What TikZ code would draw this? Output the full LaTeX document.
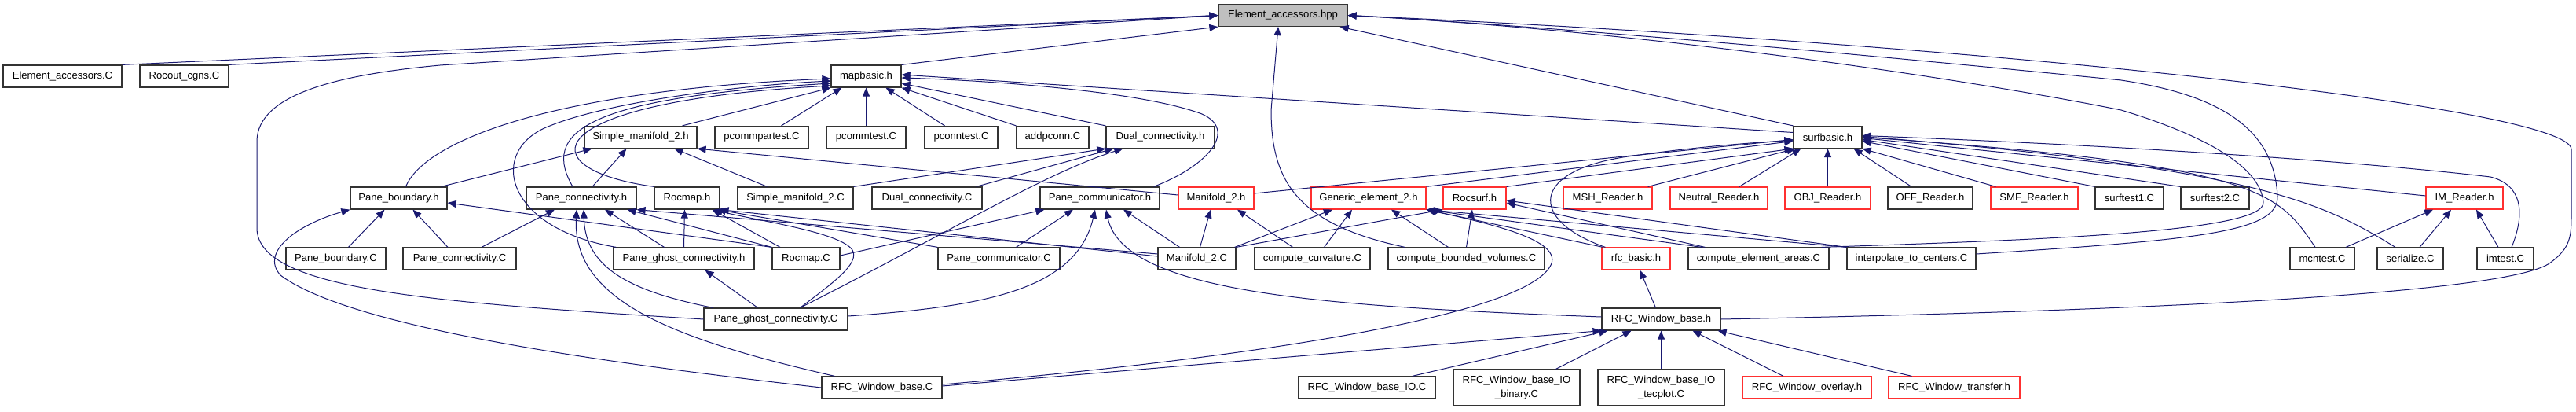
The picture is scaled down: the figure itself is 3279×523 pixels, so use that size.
\documentclass[tikz,border=0pt]{standalone}
\usepackage{fontspec}
\setmainfont{Liberation Sans}
\usetikzlibrary{arrows.meta}
\definecolor{edgeblue}{HTML}{191970}
\definecolor{rootgray}{HTML}{BFBFBF}
\definecolor{truncred}{HTML}{FF3030}

\begin{document}
\begin{tikzpicture}[x=1pt, y=-1pt,
  file/.style={draw=black!80, line width=1.2pt, fill=white, minimum height=28pt, inner sep=0pt,
    align=center, font=\fontsize{13.1pt}{17.7pt}\selectfont},
  trunc/.style={file, draw=truncred},
  root/.style={file, fill=rootgray},
  tall/.style={file, minimum height=46pt},
  dep/.style={draw=edgeblue, line width=1pt, -{Triangle[length=11pt,width=9pt]}}]
\useasboundingbox (0,0) rectangle (3279,523);

% Root file
\node[root, minimum width=164pt] (eahpp) at (1633,19.5) {Element\_accessors.hpp};

% Row 1
\node[file, minimum width=151pt] (eaC) at (79.5,97) {Element\_accessors.C};
\node[file, minimum width=113pt] (rocout) at (234.5,97) {Rocout\_cgns.C};
\node[file, minimum width=89pt] (mapbasic) at (1102.5,97) {mapbasic.h};

% Row 2
\node[file, minimum width=143pt] (smh) at (815.5,174.5) {Simple\_manifold\_2.h};
\node[file, minimum width=119pt] (pcommpartest) at (969.5,174.5) {pcommpartest.C};
\node[file, minimum width=101pt] (pcommtest) at (1102.5,174.5) {pcommtest.C};
\node[file, minimum width=93pt] (pconntest) at (1223.5,174.5) {pconntest.C};
\node[file, minimum width=92pt] (addpconn) at (1340,174.5) {addpconn.C};
\node[file, minimum width=138pt] (dualh) at (1477,174.5) {Dual\_connectivity.h};
\node[file, minimum width=87pt] (surfbasic) at (2326.5,174.5) {surfbasic.h};

% Row 3
\node[file, minimum width=123pt] (pbh) at (507.5,252) {Pane\_boundary.h};
\node[file, minimum width=140pt] (pch) at (740,252) {Pane\_connectivity.h};
\node[file, minimum width=83pt] (rocmaph) at (874.5,252) {Rocmap.h};
\node[file, minimum width=147pt] (smC) at (1012.5,252) {Simple\_manifold\_2.C};
\node[file, minimum width=140pt] (dualC) at (1180,252) {Dual\_connectivity.C};
\node[file, minimum width=152pt] (pcommh) at (1400,252) {Pane\_communicator.h};
\node[trunc, minimum width=96pt] (m2h) at (1548,252) {Manifold\_2.h};
\node[trunc, minimum width=146pt] (geh) at (1742,252) {Generic\_element\_2.h};
\node[trunc, minimum width=80pt] (rocsurf) at (1877,252) {Rocsurf.h};
\node[trunc, minimum width=113pt] (msh) at (2046.5,252) {MSH\_Reader.h};
\node[trunc, minimum width=124pt] (neutral) at (2188,252) {Neutral\_Reader.h};
\node[trunc, minimum width=109pt] (obj) at (2326.5,252) {OBJ\_Reader.h};
\node[file, minimum width=108pt] (off) at (2457,252) {OFF\_Reader.h};
\node[trunc, minimum width=111pt] (smf) at (2589.5,252) {SMF\_Reader.h};
\node[file, minimum width=87pt] (st1) at (2710.5,252) {surftest1.C};
\node[file, minimum width=87pt] (st2) at (2819.5,252) {surftest2.C};
\node[trunc, minimum width=98pt] (imr) at (3137,252) {IM\_Reader.h};

% Row 4
\node[file, minimum width=127pt] (pbC) at (427.5,329) {Pane\_boundary.C};
\node[file, minimum width=144pt] (pcC) at (585,329) {Pane\_connectivity.C};
\node[file, minimum width=179pt] (pgh) at (870.5,329) {Pane\_ghost\_connectivity.h};
\node[file, minimum width=86pt] (rocmapC) at (1026,329) {Rocmap.C};
\node[file, minimum width=155pt] (pcommC) at (1271.5,329) {Pane\_communicator.C};
\node[file, minimum width=99pt] (m2C) at (1523.5,329) {Manifold\_2.C};
\node[file, minimum width=147pt] (curv) at (1670.5,329) {compute\_curvature.C};
\node[file, minimum width=199pt] (cbv) at (1866.5,329) {compute\_bounded\_volumes.C};
\node[trunc, minimum width=87pt] (rfcb) at (2082.5,329) {rfc\_basic.h};
\node[file, minimum width=179pt] (cea) at (2238.5,329) {compute\_element\_areas.C};
\node[file, minimum width=164pt] (itc) at (2433,329) {interpolate\_to\_centers.C};
\node[file, minimum width=82pt] (mcn) at (2956,329) {mcntest.C};
\node[file, minimum width=84pt] (ser) at (3068,329) {serialize.C};
\node[file, minimum width=72pt] (imt) at (3189,329) {imtest.C};

% Row 5
\node[file, minimum width=183pt] (pgC) at (987.5,406) {Pane\_ghost\_connectivity.C};
\node[file, minimum width=151pt] (rwbh) at (2114.5,406) {RFC\_Window\_base.h};

% Row 6
\node[file, minimum width=153pt] (rwbC) at (1122.5,493) {RFC\_Window\_base.C};
\node[file, minimum width=174pt] (rwio) at (1740,493) {RFC\_Window\_base\_IO.C};
\node[tall, minimum width=161pt] (rwbin) at (1930.5,493) {RFC\_Window\_base\_IO\\\_binary.C};
\node[tall, minimum width=161pt] (rwtec) at (2114.5,493) {RFC\_Window\_base\_IO\\\_tecplot.C};
\node[trunc, minimum width=164pt] (rwov) at (2300,493) {RFC\_Window\_overlay.h};
\node[trunc, minimum width=167pt] (rwtr) at (2487.5,493) {RFC\_Window\_transfer.h};

% Element_accessors.hpp
\draw[dep] (eaC.north east) -- (eahpp.west);
\draw[dep] (rocout.north east) -- (eahpp.west);
\draw[dep] (mapbasic.north east) -- (eahpp.south west);
\draw[dep] (surfbasic.north west) -- ([xshift=-10pt]eahpp.south east);
\draw[dep] (pgC.west) .. controls (560,385) and (327,370) .. (327,290) -- (327,180)
  .. controls (327,120) and (430,95) .. (560,83) -- (eahpp.west);
\draw[dep] ([xshift=22pt]cbv.north west) .. controls (1650,285) and (1618,230) .. (1618,140) -- ([xshift=-6pt]eahpp.south);
\draw[dep] (rwbh.east) .. controls (2900,392) and (3200,365) .. (3245,335) .. controls (3273,315) and (3273,300) .. (3273,270)
  -- (3273,190) .. controls (3273,140) and (2600,60) .. (eahpp.east);
\draw[dep] ([yshift=6pt]itc.east) .. controls (2800,305) and (2900,295) .. (2899,250)
  .. controls (2895,160) and (2820,120) .. (2700,102) .. controls (2400,72) and (2000,35) .. (eahpp.east);
\draw[dep] ([xshift=-10pt]cea.north east) .. controls (2600,305) and (2885,295) .. (2881,257)
  .. controls (2877,210) and (2800,170) .. (2700,140) .. controls (2500,100) and (2100,40) .. (eahpp.east);

% mapbasic.h
\draw[dep] ([xshift=9pt]pbh.north) .. controls (540,180) and (700,115) .. ([yshift=-3pt]mapbasic.west);
\draw[dep] ([xshift=4pt]pgh.north west) .. controls (640,290) and (620,190) .. (700,160)
  .. controls (780,128) and (950,108) .. ([yshift=-6pt]mapbasic.west);
\draw[dep] ([xshift=-11pt]pch.north) .. controls (690,170) and (740,125) .. ([yshift=-9pt]mapbasic.west);
\draw[dep] (rocmaph.north west) .. controls (670,215) and (680,130) .. ([yshift=-12pt]mapbasic.west);
\draw[dep] ([xshift=53pt]smh.north) -- (mapbasic.south west);
\draw[dep] ([xshift=25pt]pcommpartest.north) -- ([xshift=14pt]mapbasic.south west);
\draw[dep] (pcommtest) -- (mapbasic);
\draw[dep] ([xshift=-21pt]pconntest.north) -- ([xshift=25pt]mapbasic.south);
\draw[dep] (addpconn.north west) -- (mapbasic.south east);
\draw[dep] (dualh.north west) -- ([yshift=-9pt]mapbasic.east);
\draw[dep] ([xshift=-8pt]pcommh.north east) .. controls (1540,210) and (1575,165) .. (1530,145)
  .. controls (1450,115) and (1250,102) .. ([yshift=-2pt]mapbasic.east);
\draw[dep] ([yshift=6pt]surfbasic.west) -- ([yshift=2pt]mapbasic.east);

% Simple_manifold_2.h
\draw[dep] ([xshift=-8pt]pbh.north east) -- ([xshift=10pt]smh.south west);
\draw[dep] ([xshift=14pt]pch.north) -- ([xshift=-18pt]smh.south);
\draw[dep] ([xshift=-36pt]smC.north) -- ([xshift=43pt]smh.south);
\draw[dep] ([yshift=4pt]m2h.west) -- (smh.south east);

% Dual_connectivity.h
\draw[dep] (smC.north east) -- (dualh.south west);
\draw[dep] ([xshift=-8pt]dualC.north east) -- ([xshift=10pt]dualh.south west);
\draw[dep] ([xshift=31pt]pgC.north) .. controls (1200,300) and (1330,220) .. ([xshift=22pt]dualh.south west);

% Pane_boundary.h
\draw[dep] ([xshift=16pt]pbC.north) -- ([xshift=-18pt]pbh.south);
\draw[dep] ([xshift=-15pt]pcC.north) -- ([xshift=18pt]pbh.south);
\draw[dep] (rocmapC.north west) -- ([yshift=-6pt]pbh.east);
\draw[dep] (rwbC.west) .. controls (800,465) and (450,420) .. (357,350) .. controls (330,320) and (380,285) .. (pbh.south west);

% Pane_connectivity.h
\draw[dep] ([xshift=28pt]pcC.north) -- ([xshift=-34pt]pch.south);
\draw[dep] ([xshift=-80pt]pgC.north) .. controls (800,370) and (745,340) .. ([xshift=3pt]pch.south);
\draw[dep] ([xshift=-60pt]rwbC.north) .. controls (850,430) and (728,380) .. ([xshift=-6pt]pch.south);
\draw[dep] ([xshift=-25pt]pgh.north) -- ([xshift=30pt]pch.south);
\draw[dep] (rocmapC.north west) -- ([xshift=-12pt]pch.south east);
\draw[dep] ([yshift=6pt]m2C.west) -- (pch.south east);

% Rocmap.h
\draw[dep] (pgh.north) -- ([xshift=-3pt]rocmaph.south);
\draw[dep] ([xshift=-33pt]rocmapC.north) -- ([xshift=-10pt]rocmaph.south east);
\draw[dep] ([yshift=3pt]m2C.west) -- (rocmaph.south east);
\draw[dep] (pcommC.north west) -- ([xshift=-4pt]rocmaph.south east);
\draw[dep] ([xshift=31pt]pgC.north) .. controls (1060,360) and (1095,335) .. (1085,318)
  .. controls (1070,295) and (960,280) .. ([xshift=-8pt]rocmaph.south east);

% Pane_ghost_connectivity.h
\draw[dep] ([xshift=-23pt]pgC.north) -- ([xshift=27pt]pgh.south);

% Pane_communicator.h
\draw[dep] ([yshift=4pt]rocmapC.east) -- ([xshift=6pt]pcommh.south west);
\draw[dep] ([xshift=22pt]pcommC.north) -- ([xshift=-34pt]pcommh.south);
\draw[dep] ([yshift=4pt]pgC.east) .. controls (1250,390) and (1370,370) .. ([xshift=-6pt]pcommh.south);
\draw[dep] ([yshift=3pt]rwbh.west) .. controls (1700,390) and (1430,375) .. ([xshift=8pt]pcommh.south);
\draw[dep] ([xshift=-22pt]m2C.north) -- ([xshift=30pt]pcommh.south);

% Manifold_2.h
\draw[dep] ([xshift=4pt]m2C.north) -- ([xshift=-7pt]m2h.south);
\draw[dep] ([xshift=-25pt]curv.north) -- ([xshift=27pt]m2h.south);
\draw[dep] ([yshift=6pt]m2h.east) -- ([yshift=-3pt]surfbasic.west);

% Generic_element_2.h
\draw[dep] (geh.north east) -- ([yshift=-5pt]surfbasic.west);
\draw[dep] ([xshift=-2pt]m2C.north east) -- ([xshift=-46pt]geh.south);
\draw[dep] ([xshift=15pt]curv.north) -- ([xshift=-21pt]geh.south);
\draw[dep] ([xshift=-23pt]cbv.north) -- ([xshift=29pt]geh.south);
\draw[dep] ([xshift=2pt]rfcb.north west) -- (geh.south east);
\draw[dep] ([xshift=18pt]cea.north west) -- (geh.south east);
\draw[dep] (itc.north west) -- (geh.south east);
\draw[dep] ([yshift=4pt]rwbC.east) .. controls (1600,455) and (1950,400) .. (1975,335)
  .. controls (1985,305) and (1900,285) .. (geh.south east);

% Rocsurf.h
\draw[dep] (rocsurf.north east) -- (surfbasic.south west);
\draw[dep] (m2C.north east) -- (rocsurf.south west);
\draw[dep] (cbv.north) -- ([xshift=-3pt]rocsurf.south);
\draw[dep] ([xshift=22pt]cea.north west) -- ([yshift=-6pt]rocsurf.east);
\draw[dep] (itc.north west) -- ([yshift=-3pt]rocsurf.east);

% rfc_basic.h
\draw[dep] ([xshift=5pt]rfcb.north west) .. controls (1945,280) and (1945,215) .. (2080,198)
  .. controls (2150,188) and (2220,182) .. ([yshift=-4pt]surfbasic.west);
\draw[dep] ([xshift=-7pt]rwbh.north) -- ([xshift=5pt]rfcb.south);

% surfbasic.h
\draw[dep] ([xshift=-6pt]msh.north east) -- ([xshift=3pt]surfbasic.south west);
\draw[dep] ([xshift=26pt]neutral.north) -- ([xshift=10pt]surfbasic.south west);
\draw[dep] (obj) -- (surfbasic);
\draw[dep] ([xshift=-24pt]off.north) -- ([xshift=33pt]surfbasic.south);
\draw[dep] ([xshift=7pt]smf.north west) -- (surfbasic.south east);
\draw[dep] (st1.north west) -- ([yshift=-5pt]surfbasic.east);
\draw[dep] (st2.north west) -- ([yshift=-3pt]surfbasic.east);
\draw[dep] ([yshift=3pt]imr.west) -- ([yshift=-1pt]surfbasic.east);
\draw[dep] ([xshift=-9pt]mcn.north) .. controls (2900,245) and (2880,210) .. (surfbasic.east);
\draw[dep] ([xshift=-19pt]ser.north) .. controls (2960,260) and (2880,215) .. ([yshift=1pt]surfbasic.east);
\draw[dep] ([xshift=8pt]imt.north) .. controls (3215,270) and (3210,235) .. (3170,225)
  .. controls (3000,205) and (2700,185) .. ([yshift=2pt]surfbasic.east);

% IM_Reader.h
\draw[dep] ([xshift=30pt]mcn.north) -- ([xshift=-40pt]imr.south);
\draw[dep] ([xshift=12pt]ser.north) -- ([xshift=-17pt]imr.south);
\draw[dep] ([xshift=-9pt]imt.north) -- ([xshift=15pt]imr.south);

% RFC_Window_base.h
\draw[dep] ([yshift=2pt]rwbC.east) -- (rwbh.south west);
\draw[dep] ([xshift=-30pt]rwio.north east) -- ([xshift=8pt]rwbh.south west);
\draw[dep] ([xshift=50pt]rwbin.north) -- ([xshift=-38pt]rwbh.south);
\draw[dep] (rwtec) -- (rwbh);
\draw[dep] ([xshift=-30pt]rwov.north) -- ([xshift=40pt]rwbh.south);
\draw[dep] ([xshift=-54pt]rwtr.north) -- ([xshift=-4pt]rwbh.south east);

\end{tikzpicture}
\end{document}
